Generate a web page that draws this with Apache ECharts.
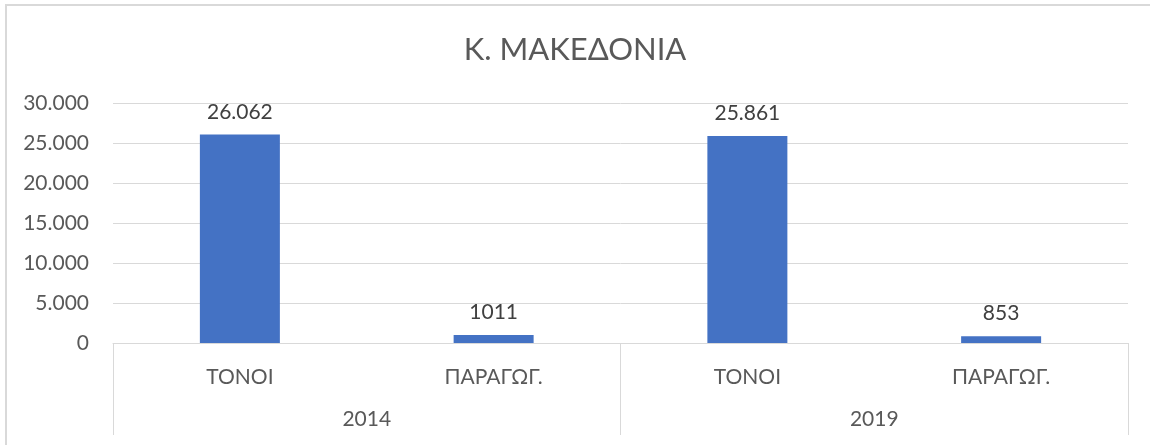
<!DOCTYPE html>
<html>
<head>
<meta charset="utf-8">
<script src="https://cdn.jsdelivr.net/npm/echarts@6/dist/echarts.min.js"></script>
<style>
  html, body { margin: 0; padding: 0; background: #fff; }
  #frame {
    position: absolute; left: 5px; top: 4px; width: 1160px; height: 460px;
    border: 2px solid #d9d9d9; box-sizing: border-box;
  }
  #chart { position: absolute; left: 0; top: 0; width: 1150px; height: 445px; }
</style>
</head>
<body>
<div id="frame"></div>
<div id="chart"></div>
<script>
const categories = ['ΤΟΝΟΙ', 'ΠΑΡΑΓΩΓ.', 'ΤΟΝΟΙ', 'ΠΑΡΑΓΩΓ.']
const years = ['2014', '2019']
const values = [26062, 1011, 25861, 853]
const valueLabels = ['26.062', '1011', '25.861', '853']

const font = 'Lato, "Noto Sans", sans-serif'
const chart = echarts.init(document.getElementById('chart'))

chart.setOption({
  backgroundColor: 'transparent',
  textStyle: { fontFamily: font },
  title: {
    text: 'Κ. ΜΑΚΕΔΟΝΙΑ',
    left: 'center',
    top: 29,
    textStyle: { fontFamily: font, fontSize: 31, fontWeight: 'normal', color: '#595959' },
  },
  grid: { left: 113, right: 22, top: 103, bottom: 102 },
  xAxis: [
    {
      type: 'category',
      data: categories,
      axisLine: { lineStyle: { color: '#d9d9d9', width: 1 } },
      axisTick: { show: false },
      axisLabel: { margin: 24, fontSize: 21, color: '#595959', fontFamily: font },
    },
    {
      type: 'category',
      data: years,
      position: 'bottom',
      axisLine: { show: false },
      axisTick: { show: true, length: 92, interval: 0, lineStyle: { color: '#d9d9d9', width: 1 } },
      axisLabel: { margin: 66, fontSize: 21, color: '#595959', fontFamily: font },
    },
  ],
  yAxis: {
    type: 'value',
    min: 0,
    max: 30000,
    interval: 5000,
    axisLine: { show: false },
    axisTick: { show: false },
    splitLine: { lineStyle: { color: '#d9d9d9', width: 1 } },
    axisLabel: {
      margin: 24,
      fontSize: 21,
      color: '#595959',
      fontFamily: font,
      formatter: (v) => (v === 0 ? '0' : String(v).replace(/\B(?=(\d{3})+(?!\d))/g, '.')),
    },
  },
  series: [
    {
      type: 'bar',
      xAxisIndex: 0,
      data: values,
      barWidth: 80,
      itemStyle: { color: '#4472c4' },
      label: {
        show: true,
        position: 'top',
        distance: 12,
        fontSize: 21,
        color: '#404040',
        fontFamily: font,
        formatter: (p) => valueLabels[p.dataIndex],
      },
    },
  ],
})
</script>
</body>
</html>
